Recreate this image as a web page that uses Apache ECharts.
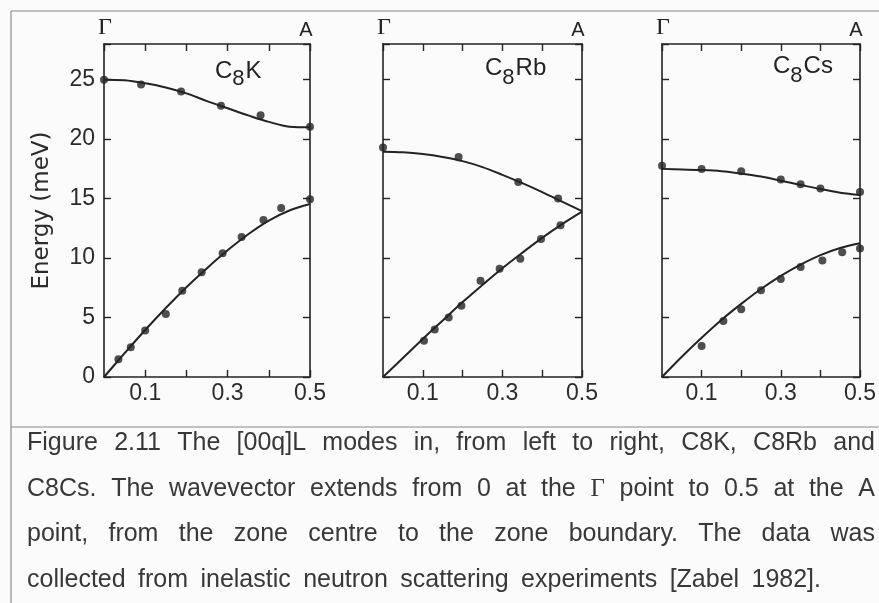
<!DOCTYPE html>
<html>
<head>
<meta charset="utf-8">
<script src="https://cdn.jsdelivr.net/npm/echarts@6/dist/echarts.min.js"></script>
<style>
  html, body { margin: 0; padding: 0; background: #fbfbfb; }
  #chart { width: 879px; height: 603px; }
</style>
</head>
<body>
<div id="chart"></div>
<script>
// [00q]L phonon branches (energy in meV vs reduced wavevector q) for three graphite intercalation compounds.

// C8K
const c8kUpperPts = [[0, 25.0], [0.09, 24.6], [0.187, 24.0], [0.284, 22.8], [0.38, 22.0], [0.5, 21.05]];
const c8kUpperFit = [[0, 25.0], [0.05, 24.95], [0.1, 24.7], [0.15, 24.35], [0.2, 23.85], [0.25, 23.2], [0.3, 22.6], [0.35, 22.0], [0.4, 21.45], [0.45, 21.05], [0.5, 21.0]];
const c8kLowerPts = [[0.035, 1.5], [0.065, 2.5], [0.1, 3.9], [0.15, 5.3], [0.19, 7.26], [0.237, 8.8], [0.288, 10.4], [0.334, 11.77], [0.387, 13.2], [0.43, 14.2], [0.5, 14.95]];
const c8kLowerFit = [[0, 0], [0.05, 2.0], [0.1, 3.95], [0.15, 5.8], [0.2, 7.55], [0.25, 9.15], [0.3, 10.65], [0.35, 12.0], [0.4, 13.15], [0.45, 14.0], [0.5, 14.55]];

// C8Rb
const c8rbUpperPts = [[0, 19.3], [0.19, 18.5], [0.34, 16.4], [0.44, 15.0]];
const c8rbUpperFit = [[0, 18.95], [0.05, 18.9], [0.1, 18.75], [0.15, 18.5], [0.2, 18.15], [0.25, 17.65], [0.3, 17.0], [0.35, 16.3], [0.4, 15.55], [0.45, 14.75], [0.5, 13.95]];
const c8rbLowerPts = [[0.103, 3.04], [0.13, 4.0], [0.165, 5.0], [0.197, 6.0], [0.245, 8.1], [0.293, 9.1], [0.345, 9.95], [0.397, 11.6], [0.446, 12.75]];
const c8rbLowerFit = [[0, 0], [0.05, 1.6], [0.1, 3.2], [0.15, 4.75], [0.2, 6.3], [0.25, 7.75], [0.3, 9.15], [0.35, 10.45], [0.4, 11.7], [0.45, 12.85], [0.5, 13.9]];

// C8Cs
const c8csUpperPts = [[0, 17.76], [0.1, 17.5], [0.2, 17.3], [0.3, 16.6], [0.35, 16.2], [0.4, 15.85], [0.5, 15.55]];
const c8csUpperFit = [[0, 17.5], [0.05, 17.45], [0.1, 17.4], [0.15, 17.3], [0.2, 17.1], [0.25, 16.85], [0.3, 16.5], [0.35, 16.15], [0.4, 15.8], [0.45, 15.5], [0.5, 15.3]];
const c8csLowerPts = [[0.1, 2.6], [0.155, 4.7], [0.2, 5.7], [0.25, 7.3], [0.3, 8.25], [0.35, 9.25], [0.405, 9.8], [0.455, 10.5], [0.5, 10.8]];
const c8csLowerFit = [[0, 0], [0.05, 1.7], [0.1, 3.3], [0.15, 4.8], [0.2, 6.15], [0.25, 7.4], [0.3, 8.5], [0.35, 9.45], [0.4, 10.25], [0.45, 10.85], [0.5, 11.25]];

// Axis ranges and labels
const qMin = 0, qMax = 0.5, qStep = 0.1;
const qLabels = ['0.1', '0.3', '0.5'];
const eMin = 0, eMax = 28, eStep = 5;
const eLabels = ['0', '5', '10', '15', '20', '25'];
const yTitle = 'Energy (meV)';
const startPoint = 'Γ', endPoint = 'A';

// Panel titles: [main, subscript, rest]
const panelTitles = [['C', '8', 'K'], ['C', '8', 'Rb'], ['C', '8', 'Cs']];

const captionLines = [
  'Figure 2.11 The [00q]L modes in, from left to right, C8K, C8Rb and',
  'C8Cs. The wavevector extends from 0 at the Γ point to 0.5 at the A',
  'point, from the zone centre to the zone boundary. The data was',
  'collected from inelastic neutron scattering experiments [Zabel 1982].'
];

const panels = [
  { up: c8kUpperPts, upFit: c8kUpperFit, lo: c8kLowerPts, loFit: c8kLowerFit },
  { up: c8rbUpperPts, upFit: c8rbUpperFit, lo: c8rbLowerPts, loFit: c8rbLowerFit },
  { up: c8csUpperPts, upFit: c8csUpperFit, lo: c8csLowerPts, loFit: c8csLowerFit }
];

// ---- layout ----
const INK = '#232323';
const AXIS_FONT = '"Liberation Sans", Arial, sans-serif';
const gridBoxes = [
  { left: 104, top: 44, width: 206, height: 333 },
  { left: 383, top: 44, width: 199, height: 333 },
  { left: 662, top: 44, width: 198, height: 333 }
];
// left edge of each panel title and vertical centres of main / subscript glyphs
const titleAnchor = [[215, 71, 79], [485, 68, 78], [773, 66, 76]];

const axisLine = { show: true, onZero: false, lineStyle: { color: INK, width: 1.6 } };
const tick = { show: true, inside: true, length: 7, lineStyle: { color: INK, width: 1.4 } };

const grids = [], xAxes = [], yAxes = [], series = [];
gridBoxes.forEach((g, i) => {
  grids.push(Object.assign({ containLabel: false }, g));
  const baseX = { type: 'value', gridIndex: i, min: qMin, max: qMax, interval: qStep,
    axisLine, axisTick: tick, splitLine: { show: false } };
  xAxes.push(Object.assign({}, baseX, {
    position: 'bottom',
    axisLabel: {
      show: true, margin: 5, color: '#2b2b2b', fontFamily: AXIS_FONT, fontSize: 23,
      showMinLabel: false, showMaxLabel: true,
      formatter: v => { const s = (Math.round(v * 10) / 10).toFixed(1); return qLabels.includes(s) ? s : ''; }
    }
  }));
  xAxes.push(Object.assign({}, baseX, { position: 'top', axisLabel: { show: false } }));
  const baseY = { type: 'value', gridIndex: i, min: eMin, max: eMax, interval: eStep,
    axisLine, axisTick: tick, splitLine: { show: false } };
  yAxes.push(Object.assign({}, baseY, {
    position: 'left',
    name: i === 0 ? yTitle : '',
    nameLocation: 'middle', nameGap: 50,
    nameTextStyle: { color: '#2b2b2b', fontFamily: '"DejaVu Sans", sans-serif', fontSize: 23 },
    axisLabel: {
      show: i === 0, margin: 9, color: '#2b2b2b', fontFamily: AXIS_FONT, fontSize: 23,
      formatter: v => (eLabels.includes(String(v)) ? String(v) : '')
    }
  }));
  yAxes.push(Object.assign({}, baseY, { position: 'right', axisLabel: { show: false } }));

  const p = panels[i];
  const xi = i * 2, yi = i * 2;
  [p.upFit, p.loFit].forEach(d => series.push({
    type: 'line', xAxisIndex: xi, yAxisIndex: yi, data: d, smooth: 0.35,
    showSymbol: false, symbol: 'none', lineStyle: { color: INK, width: 2 }, z: 2, silent: true
  }));
  [p.up, p.lo].forEach(d => series.push({
    type: 'scatter', xAxisIndex: xi, yAxisIndex: yi, data: d,
    symbol: 'circle', symbolSize: 8, itemStyle: { color: INK }, z: 3, silent: true
  }));
});

// ---- text measuring helper ----
const ctx = document.createElement('canvas').getContext('2d');
const measure = (s, f) => { ctx.font = f; return ctx.measureText(s).width; };

// ---- decorations: frame, Γ/A markers, panel titles ----
const graphic = [];
const FRAME = '#8a8a8a';
graphic.push({ type: 'line', shape: { x1: 11, y1: 11, x2: 879, y2: 11 }, style: { stroke: FRAME, lineWidth: 1.2 } });
graphic.push({ type: 'line', shape: { x1: 11, y1: 11, x2: 11, y2: 603 }, style: { stroke: FRAME, lineWidth: 1.2 } });
graphic.push({ type: 'line', shape: { x1: 11, y1: 427, x2: 879, y2: 427 }, style: { stroke: FRAME, lineWidth: 1.2 } });

const mainFont = '24px "Liberation Sans", sans-serif';
const subFont = '22px "Liberation Sans", sans-serif';
gridBoxes.forEach((g, i) => {
  graphic.push({ type: 'text', x: g.left + 1, y: 28,
    style: { text: startPoint, fill: INK, font: '24px "Liberation Serif", serif', align: 'center', verticalAlign: 'middle' } });
  graphic.push({ type: 'text', x: g.left + g.width - 4, y: 30,
    style: { text: endPoint, fill: INK, font: '20px "Liberation Sans", sans-serif', align: 'center', verticalAlign: 'middle' } });
  const t = panelTitles[i], a = titleAnchor[i];
  const x1 = a[0] + measure(t[0], mainFont);
  const x2 = x1 + measure(t[1], subFont) + 1;
  graphic.push({ type: 'text', x: a[0], y: a[1],
    style: { text: t[0], fill: INK, font: mainFont, align: 'left', verticalAlign: 'middle' } });
  graphic.push({ type: 'text', x: x1, y: a[2],
    style: { text: t[1], fill: INK, font: subFont, align: 'left', verticalAlign: 'middle' } });
  graphic.push({ type: 'text', x: x2, y: a[1],
    style: { text: t[2], fill: INK, font: mainFont, align: 'left', verticalAlign: 'middle' } });
});

// ---- caption: justified lines (last line spread to its own end point) ----
const CAP_SIZE = 25;
const capFont = w => (w === 'Γ' ? CAP_SIZE + 'px "Liberation Serif", serif' : CAP_SIZE + 'px "Liberation Sans", Arial, sans-serif');
const capLeft = 27, capRight = 875, lastLineRight = 821;
const capMid = [443, 489, 534, 580];

captionLines.forEach((line, li) => {
  const words = line.split(' ');
  const widths = words.map(w => measure(w, capFont(w)));
  const total = widths.reduce((a, b) => a + b, 0);
  const right = li === captionLines.length - 1 ? lastLineRight : capRight;
  const gap = (right - capLeft - total) / (words.length - 1);
  let x = capLeft;
  words.forEach((w, wi) => {
    graphic.push({ type: 'text', x: x, y: capMid[li],
      style: { text: w, fill: '#383838', font: capFont(w), align: 'left', verticalAlign: 'middle' } });
    x += widths[wi] + gap;
  });
});

const chart = echarts.init(document.getElementById('chart'), null, { renderer: 'canvas' });
chart.setOption({
  backgroundColor: '#fbfbfb',
  animation: false,
  grid: grids,
  xAxis: xAxes,
  yAxis: yAxes,
  series: series,
  graphic: graphic
});
</script>
</body>
</html>
